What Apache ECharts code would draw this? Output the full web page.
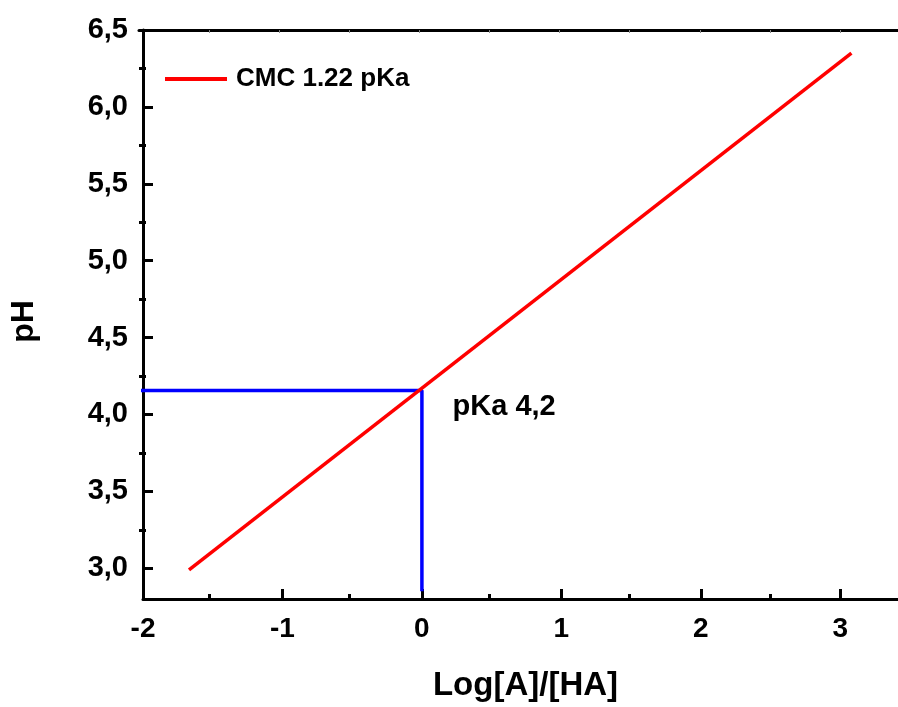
<!DOCTYPE html>
<html>
<head>
<meta charset="utf-8">
<script src="https://cdn.jsdelivr.net/npm/echarts@6/dist/echarts.min.js"></script>
<style>
	html, body { margin: 0; padding: 0; background: #fff; }
	#chart { width: 898px; height: 707px; }
</style>
</head>
<body>
<div id="chart"></div>
<script>
// CMC fit line (Log[A]/[HA] vs pH)
var cmcX = [-1.67, 3.08];
var cmcPH = [2.99, 6.35];
// pKa guide (blue)
var pkaX = [-2.04, 0, 0];
var pkaPH = [4.156, 4.156, 2.85];
var pkaLabelAt = [0.22, 4.05];
var pkaLabel = 'pKa 4,2';
var seriesName = 'CMC 1.22 pKa';
// ticks
var xMajor = [-2, -1, 0, 1, 2, 3];
var xMinor = [-1.5, -0.5, 0.5, 1.5, 2.5];
var xTop = [-1.5, -1, -0.5, 0, 0.5, 1, 1.5, 2, 2.5, 3];
var yMajor = [3, 3.5, 4, 4.5, 5, 5.5, 6, 6.5];
var yMinor = [3.25, 3.75, 4.25, 4.75, 5.25, 5.75, 6.25];

var FONT = "'Liberation Sans', Arial, sans-serif";

function pairs(xs, ys) {
	var out = [];
	for (var i = 0; i < xs.length; i++) out.push([xs[i], ys[i]]);
	return out;
}

var myChart = echarts.init(document.getElementById('chart'));
var gridBox = { left: 139, right: 0, top: 30, bottom: 107, containLabel: false };

var option = {
	animation: false,
	backgroundColor: '#fff',
	grid: [ Object.assign({}, gridBox), Object.assign({}, gridBox) ],
	legend: {
		left: 165,
		top: 66,
		padding: 0,
		itemWidth: 62,
		itemHeight: 4,
		data: [ { name: seriesName, icon: 'rect' } ],
		textStyle: {
			fontFamily: FONT,
			fontWeight: 'bold',
			fontSize: 26,
			color: '#000',
			lineHeight: 26,
			padding: [0, 0, 0, 4]
		}
	},
	xAxis: [ {
		type: 'value',
		gridIndex: 0,
		position: 'bottom',
		min: -2,
		max: 3.414,
		splitLine: { show: false },
		axisLine: { show: true, onZero: false, lineStyle: { color: '#000', width: 3 } },
		axisTick: { show: true, inside: true, length: 10, customValues: xMajor, lineStyle: { color: '#000', width: 3 } },
		axisLabel: {
			customValues: xMajor,
			margin: 16,
			fontFamily: FONT,
			fontWeight: 'bold',
			fontSize: 28,
			color: '#000'
		},
		name: 'Log[A]/[HA]',
		nameLocation: 'middle',
		nameGap: 70,
		nameTextStyle: { fontFamily: FONT, fontWeight: 'bold', fontSize: 33, color: '#000', padding: [0, 0, 0, 10] }
	}, {
		type: 'value',
		gridIndex: 1,
		position: 'bottom',
		min: -2,
		max: 3.414,
		splitLine: { show: false },
		axisLine: { show: false, onZero: false },
		axisTick: { show: true, inside: true, length: 6, customValues: xMinor, lineStyle: { color: '#000', width: 3 } },
		axisLabel: { show: false }
	}, {
		type: 'value',
		gridIndex: 1,
		position: 'top',
		min: -2,
		max: 3.414,
		splitLine: { show: false },
		axisLine: { show: true, onZero: false, lineStyle: { color: '#000', width: 3 } },
		axisTick: { show: true, inside: true, length: 3, customValues: xTop, lineStyle: { color: '#888', width: 1 } },
		axisLabel: { show: false }
	} ],
	yAxis: [ {
		type: 'value',
		gridIndex: 0,
		position: 'left',
		min: 2.8,
		max: 6.5,
		splitLine: { show: false },
		axisLine: { show: true, onZero: false, lineStyle: { color: '#000', width: 3 } },
		axisTick: { show: true, inside: true, length: 10, customValues: yMajor, lineStyle: { color: '#000', width: 3 } },
		axisLabel: {
			customValues: yMajor,
			margin: 15,
			fontFamily: FONT,
			fontWeight: 'bold',
			fontSize: 29,
			color: '#000',
			formatter: function(v) { return v.toFixed(1).replace('.', ','); }
		},
		name: 'pH',
		nameLocation: 'middle',
		nameGap: 103,
		nameTextStyle: { fontFamily: FONT, fontWeight: 'bold', fontSize: 32, color: '#000', padding: [0, 0, 0, -14] }
	}, {
		type: 'value',
		gridIndex: 1,
		position: 'left',
		min: 2.8,
		max: 6.5,
		splitLine: { show: false },
		axisLine: { show: false, onZero: false },
		axisTick: { show: true, inside: true, length: 7, customValues: yMinor, lineStyle: { color: '#000', width: 3 } },
		axisLabel: { show: false }
	} ],
	series: [ {
		name: seriesName,
		type: 'line',
		xAxisIndex: 0,
		yAxisIndex: 0,
		data: pairs(cmcX, cmcPH),
		symbol: 'none',
		itemStyle: { color: '#ff0000' },
		lineStyle: { color: '#ff0000', width: 3.5 }
	}, {
		name: 'pKa guide',
		type: 'line',
		xAxisIndex: 0,
		yAxisIndex: 0,
		data: pairs(pkaX, pkaPH),
		symbol: 'none',
		clip: false,
		itemStyle: { color: '#0000ff' },
		lineStyle: { color: '#0000ff', width: 3.5 },
		z: 1
	}, {
		name: 'pKa label',
		type: 'scatter',
		xAxisIndex: 0,
		yAxisIndex: 0,
		data: [ pkaLabelAt ],
		symbolSize: 0,
		silent: true,
		itemStyle: { opacity: 1 },
		label: {
			show: true,
			position: 'right',
			distance: 0,
			formatter: pkaLabel,
			fontFamily: FONT,
			fontWeight: 'bold',
			fontSize: 29,
			color: '#000'
		}
	} ]
};
myChart.setOption(option);
</script>
</body>
</html>
